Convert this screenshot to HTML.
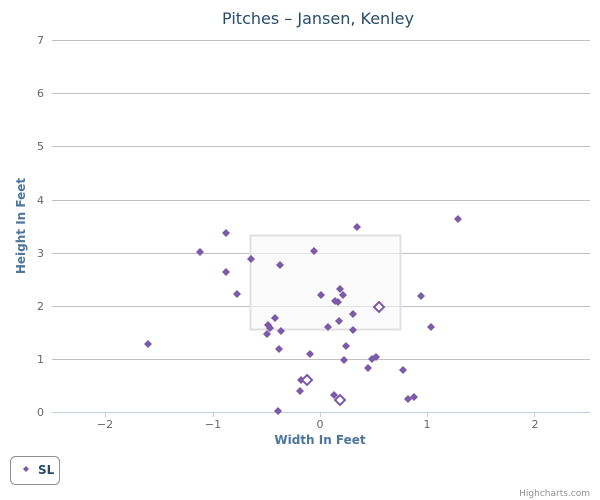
<!DOCTYPE html>
<html><head><meta charset="utf-8"><style>
html,body{margin:0;padding:0;background:#fff;}
svg{display:block;font-family:"DejaVu Sans","Liberation Sans",sans-serif;}
</style></head><body>
<svg width="600" height="500" viewBox="0 0 600 500" xmlns="http://www.w3.org/2000/svg">
<rect width="600" height="500" fill="#fff"/>
<text x="318" y="24" text-anchor="middle" font-size="16" fill="#274b6d">Pitches – Jansen, Kenley</text>
<g stroke="#c0c0c0" stroke-width="1">
<line x1="52" x2="590" y1="40.5" y2="40.5"/>
<line x1="52" x2="590" y1="93.5" y2="93.5"/>
<line x1="52" x2="590" y1="146.5" y2="146.5"/>
<line x1="52" x2="590" y1="200.5" y2="200.5"/>
<line x1="52" x2="590" y1="253.5" y2="253.5"/>
<line x1="52" x2="590" y1="306.5" y2="306.5"/>
<line x1="52" x2="590" y1="359.5" y2="359.5"/>
</g>
<line x1="52" x2="590" y1="412.5" y2="412.5" stroke="#c0d0e0"/>
<g stroke="#c0d0e0">
<line x1="105.5" x2="105.5" y1="412" y2="417"/>
<line x1="213.5" x2="213.5" y1="412" y2="417"/>
<line x1="320.5" x2="320.5" y1="412" y2="417"/>
<line x1="427.5" x2="427.5" y1="412" y2="417"/>
<line x1="534.5" x2="534.5" y1="412" y2="417"/>
</g>
<g font-size="11" fill="#666" text-anchor="end">
<text x="44" y="44">7</text><text x="44" y="97">6</text><text x="44" y="150">5</text>
<text x="44" y="204">4</text><text x="44" y="257">3</text><text x="44" y="310">2</text>
<text x="44" y="363">1</text><text x="44" y="416">0</text>
</g>
<g font-size="11" fill="#666" text-anchor="middle">
<text x="105" y="428">−2</text><text x="213" y="428">−1</text><text x="320" y="428">0</text>
<text x="427" y="428">1</text><text x="535" y="428">2</text>
</g>
<text x="320" y="444" text-anchor="middle" font-size="12" font-weight="bold" fill="#4d759e">Width In Feet</text>
<text transform="translate(25,226) rotate(-90)" text-anchor="middle" font-size="12" font-weight="bold" fill="#4d759e">Height In Feet</text>
<rect x="250.5" y="235.5" width="150" height="94" fill="#f8f8f8" fill-opacity="0.6" stroke="#e0e0e0" stroke-width="2"/>
<g fill="#7b5ba8">
<path d="M148 340l4 4-4 4-4-4z"/>
<path d="M226 229l4 4-4 4-4-4z"/>
<path d="M357 223l4 4-4 4-4-4z"/>
<path d="M458 215l4 4-4 4-4-4z"/>
<path d="M200 248l4 4-4 4-4-4z"/>
<path d="M251 255l4 4-4 4-4-4z"/>
<path d="M280 261l4 4-4 4-4-4z"/>
<path d="M314 247l4 4-4 4-4-4z"/>
<path d="M226 268l4 4-4 4-4-4z"/>
<path d="M237 290l4 4-4 4-4-4z"/>
<path d="M321 291l4 4-4 4-4-4z"/>
<path d="M340 285l4 4-4 4-4-4z"/>
<path d="M343 291l4 4-4 4-4-4z"/>
<path d="M335 297l4 4-4 4-4-4z"/>
<path d="M338 298l4 4-4 4-4-4z"/>
<path d="M421 292l4 4-4 4-4-4z"/>
<path d="M275 314l4 4-4 4-4-4z"/>
<path d="M268 321l4 4-4 4-4-4z"/>
<path d="M270 324l4 4-4 4-4-4z"/>
<path d="M267 330l4 4-4 4-4-4z"/>
<path d="M281 327l4 4-4 4-4-4z"/>
<path d="M339 317l4 4-4 4-4-4z"/>
<path d="M328 323l4 4-4 4-4-4z"/>
<path d="M353 310l4 4-4 4-4-4z"/>
<path d="M353 326l4 4-4 4-4-4z"/>
<path d="M431 323l4 4-4 4-4-4z"/>
<path d="M279 345l4 4-4 4-4-4z"/>
<path d="M346 342l4 4-4 4-4-4z"/>
<path d="M310 350l4 4-4 4-4-4z"/>
<path d="M344 356l4 4-4 4-4-4z"/>
<path d="M372 355l4 4-4 4-4-4z"/>
<path d="M376 353l4 4-4 4-4-4z"/>
<path d="M368 364l4 4-4 4-4-4z"/>
<path d="M403 366l4 4-4 4-4-4z"/>
<path d="M301 376l4 4-4 4-4-4z"/>
<path d="M300 387l4 4-4 4-4-4z"/>
<path d="M334 391l4 4-4 4-4-4z"/>
<path d="M408 395l4 4-4 4-4-4z"/>
<path d="M414 393l4 4-4 4-4-4z"/>
<path d="M278 407l4 4-4 4-4-4z"/>
</g>
<g fill="#fff" stroke="#7b5ba8" stroke-width="2">
<path d="M379 302l5 5-5 5-5-5z"/>
<path d="M307 375l5 5-5 5-5-5z"/>
<path d="M340 395l5 5-5 5-5-5z"/>
</g>
<rect x="10.5" y="456.5" width="49" height="28" rx="5" fill="#fff" stroke="#909090"/>
<path d="M26 466l3 3-3 3-3-3z" fill="#7b5ba8"/>
<text x="38" y="474" font-size="12" font-weight="bold" fill="#274b6d">SL</text>
<text x="590" y="496" text-anchor="end" font-size="9" fill="#909090">Highcharts.com</text>
</svg>
</body></html>
